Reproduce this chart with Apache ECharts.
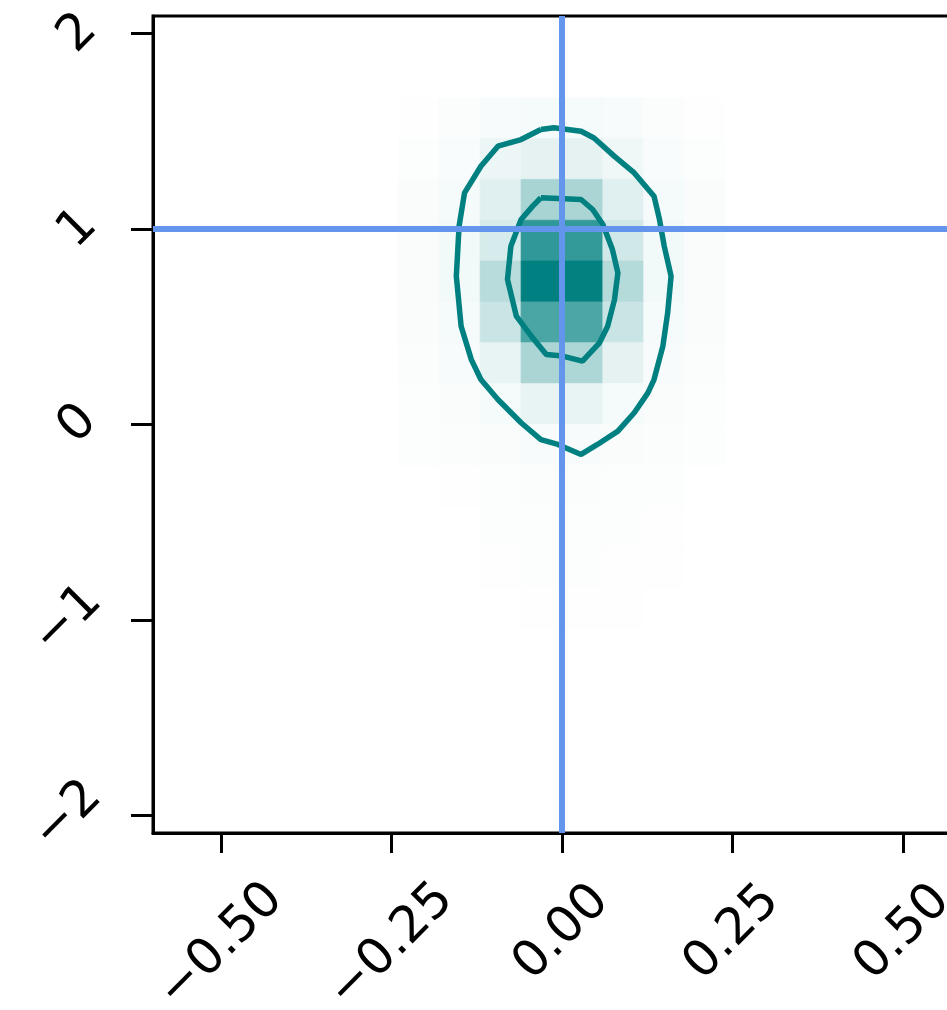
<!DOCTYPE html>
<html>
<head>
<meta charset="utf-8">
<script src="https://cdn.jsdelivr.net/npm/echarts@6/dist/echarts.min.js"></script>
<style>
  html, body { margin: 0; padding: 0; background: #ffffff; }
  #chart { width: 947px; height: 1010px; }
</style>
</head>
<body>
<div id="chart"></div>
<script>
// Axis ranges and histogram binning
const xRange = [-0.6, 0.6];
const yRange = [-2.09, 2.09];
const nBins = 20;

// Tick positions
const xTicks = [-0.5, -0.25, 0, 0.25, 0.5];
const yTicks = [-2, -1, 0, 1, 2];

// Reference ("truth") values drawn as cross-hair lines
const truths = [0.0, 1.0];

// 2D histogram counts, rows listed from the top y-bin down to the bottom one,
// 20 x-bins per row (left to right)
const countRows = [
  [0,0,0,0,0,0,0,0,0,0,0,0,0,0,0,0,0,0,0,0],
  [0,0,0,0,0,0,0,0,0,0,0,0,0,0,0,0,0,0,0,0],
  [0,0,0,0,0,0,0.5,1.5,3,4,4,3,1.5,0.5,0,0,0,0,0,0],
  [0,0,0,0,0,0,1,2.5,7,10,10,6,2.5,1,0,0,0,0,0,0],
  [0,0,0,0,0,0,2,4,12,34,33,12,4,2,0,0,0,0,0,0],
  [0,0,0,0,0,0,2,5,16,81,80,18,5,2,0,0,0,0,0,0],
  [0,0,0,0,0,0,2,5,28,100,99,29,5,2,0,0,0,0,0,0],
  [0,0,0,0,0,0,2,4,21,71,70,21,4,2,0,0,0,0,0,0],
  [0,0,0,0,0,0,1.5,3,9,33,32,10,3,1.5,0,0,0,0,0,0],
  [0,0,0,0,0,0,1,2,4,9,9,4,2,1,0,0,0,0,0,0],
  [0,0,0,0,0,0,1,1.5,2,3,3,2,1.5,1,0,0,0,0,0,0],
  [0,0,0,0,0,0,0,0.5,1,1.5,1.5,1,1,0,0,0,0,0,0,0],
  [0,0,0,0,0,0,0,0,1,1,1,1,0.5,0,0,0,0,0,0,0],
  [0,0,0,0,0,0,0,0,0.5,1,1,0.5,0.5,0,0,0,0,0,0,0],
  [0,0,0,0,0,0,0,0,0,0.5,0.5,0.5,0,0,0,0,0,0,0,0],
  [0,0,0,0,0,0,0,0,0,0,0,0,0,0,0,0,0,0,0,0],
  [0,0,0,0,0,0,0,0,0,0,0,0,0,0,0,0,0,0,0,0],
  [0,0,0,0,0,0,0,0,0,0,0,0,0,0,0,0,0,0,0,0],
  [0,0,0,0,0,0,0,0,0,0,0,0,0,0,0,0,0,0,0,0],
  [0,0,0,0,0,0,0,0,0,0,0,0,0,0,0,0,0,0,0,0]
];

// Density contour levels traced as closed polylines [x, y]
const contourOuter = [
  [-0.031, 1.509], [-0.012, 1.518], [0.028, 1.500], [0.047, 1.466], [0.077, 1.372],
  [0.106, 1.287], [0.135, 1.168], [0.143, 1.049], [0.150, 0.912], [0.160, 0.759],
  [0.155, 0.571], [0.148, 0.401], [0.135, 0.230], [0.126, 0.162], [0.106, 0.060],
  [0.082, -0.034], [0.052, -0.102], [0.028, -0.153], [-0.006, -0.102], [-0.031, -0.077],
  [-0.060, 0.009], [-0.094, 0.128], [-0.119, 0.230], [-0.133, 0.332], [-0.148, 0.503],
  [-0.155, 0.759], [-0.151, 1.014], [-0.143, 1.185], [-0.119, 1.321], [-0.094, 1.424],
  [-0.060, 1.458], [-0.031, 1.509]
];
const contourInner = [
  [-0.031, 1.160], [0.028, 1.151], [0.045, 1.100], [0.060, 1.023], [0.074, 0.895],
  [0.082, 0.776], [0.077, 0.639], [0.067, 0.503], [0.055, 0.418], [0.030, 0.324],
  [0.001, 0.350], [-0.023, 0.358], [-0.045, 0.452], [-0.067, 0.554], [-0.080, 0.742],
  [-0.075, 0.912], [-0.060, 1.049], [-0.043, 1.117], [-0.031, 1.160]
];

// ---- build histogram cells [x0, x1, y0, y1, count] ----
const dx = (xRange[1] - xRange[0]) / nBins;
const dy = (yRange[1] - yRange[0]) / nBins;
const cells = [];
let maxCount = 0;
countRows.forEach((row, r) => {
  const j = nBins - 1 - r;
  row.forEach((c, i) => {
    if (c > 0) {
      cells.push([xRange[0] + i * dx, xRange[0] + (i + 1) * dx,
                  yRange[0] + j * dy, yRange[0] + (j + 1) * dy, c]);
      maxCount = Math.max(maxCount, c);
    }
  });
});

const MINUS = '\u2212';
const fmtX = v => (v < 0 ? MINUS : '') + Math.abs(v).toFixed(2);
const fmtY = v => (v < 0 ? MINUS : '') + Math.abs(Math.round(v));

const FONT = 'DejaVu Sans';
const labelBase = {
  rotate: 45, align: 'center', verticalAlign: 'middle',
  fontFamily: FONT, fontSize: 50, color: '#000'
};
const lineBlack = { color: '#000', width: 3 };

const chart = echarts.init(document.getElementById('chart'), null, { renderer: 'canvas' });

chart.setOption({
  animation: false,
  backgroundColor: '#ffffff',
  grid: {
    left: 153, top: 16, width: 818, height: 817,
    show: true, borderColor: '#000', borderWidth: 3, backgroundColor: 'transparent',
    containLabel: false, outerBoundsMode: 'none'
  },
  xAxis: [
    {
      type: 'value', min: xRange[0], max: xRange[1], position: 'bottom',
      axisLine: { show: true, onZero: false, lineStyle: lineBlack },
      axisTick: { show: true, customValues: xTicks, length: 20, lineStyle: lineBlack },
      axisLabel: Object.assign({}, labelBase, {
        customValues: xTicks.filter(v => v < 0), margin: 113, formatter: fmtX
      }),
      splitLine: { show: false }
    },
    {
      type: 'value', min: xRange[0], max: xRange[1], position: 'bottom',
      axisLine: { show: false, onZero: false },
      axisTick: { show: false },
      axisLabel: Object.assign({}, labelBase, {
        customValues: xTicks.filter(v => v >= 0), margin: 100, formatter: fmtX
      }),
      splitLine: { show: false }
    }
  ],
  yAxis: [
    {
      type: 'value', min: yRange[0], max: yRange[1], position: 'left',
      axisLine: { show: true, onZero: false, lineStyle: lineBlack },
      axisTick: { show: true, customValues: yTicks, length: 22, lineStyle: lineBlack },
      axisLabel: Object.assign({}, labelBase, {
        customValues: yTicks.filter(v => v >= 0), margin: 75, formatter: fmtY
      }),
      splitLine: { show: false }
    },
    {
      type: 'value', min: yRange[0], max: yRange[1], position: 'left',
      axisLine: { show: false, onZero: false },
      axisTick: { show: false },
      axisLabel: Object.assign({}, labelBase, {
        customValues: yTicks.filter(v => v < 0), margin: 85, formatter: fmtY
      }),
      splitLine: { show: false }
    }
  ],
  visualMap: {
    show: false, type: 'continuous', seriesIndex: 0, dimension: 4,
    min: 0, max: maxCount, inRange: { color: ['#ffffff', '#008080'] }
  },
  series: [
    {
      type: 'custom', xAxisIndex: 0, yAxisIndex: 0, z: 1,
      data: cells,
      encode: { x: [0, 1], y: [2, 3] },
      clip: true,
      renderItem: (params, api) => {
        const p0 = api.coord([api.value(0), api.value(3)]);
        const p1 = api.coord([api.value(1), api.value(2)]);
        const col = api.visual('color');
        return {
          type: 'rect',
          shape: { x: p0[0], y: p0[1], width: p1[0] - p0[0], height: p1[1] - p0[1] },
          style: { fill: col, stroke: col, lineWidth: 0.8 }
        };
      }
    },
    {
      type: 'line', xAxisIndex: 0, yAxisIndex: 0, z: 3,
      data: contourOuter, showSymbol: false, symbol: 'none', smooth: false,
      lineStyle: { color: '#008080', width: 5.5 }
    },
    {
      type: 'line', xAxisIndex: 0, yAxisIndex: 0, z: 3,
      data: contourInner, showSymbol: false, symbol: 'none', smooth: false,
      lineStyle: { color: '#008080', width: 5.5 }
    },
    {
      type: 'line', xAxisIndex: 0, yAxisIndex: 0, z: 4,
      data: [],
      markLine: {
        silent: true, symbol: ['none', 'none'], animation: false,
        label: { show: false },
        lineStyle: { color: '#6495ed', width: 6, type: 'solid' },
        data: [{ xAxis: truths[0] }, { yAxis: truths[1] }]
      }
    }
  ]
});
</script>
</body>
</html>
